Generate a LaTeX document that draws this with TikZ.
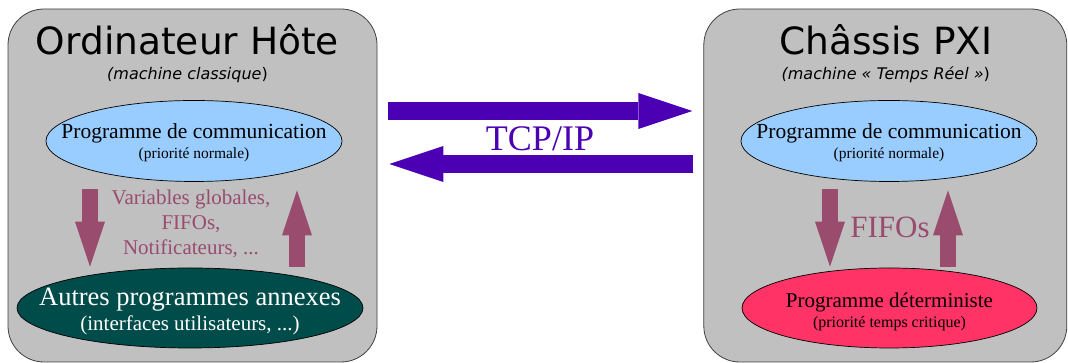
\documentclass[tikz,border=0pt]{standalone}
\usepackage{fontspec}
\setmainfont{Liberation Serif}
\newfontfamily\titlefont{DejaVu Sans}
\usetikzlibrary{arrows.meta,calc,positioning,shapes.geometric}
\definecolor{boxg}{HTML}{C0C0C0}
\definecolor{comb}{HTML}{99CCFF}
\definecolor{annt}{HTML}{004C4A}
\definecolor{detr}{HTML}{FF3366}
\definecolor{flowm}{HTML}{994C6E}
\definecolor{tcpv}{HTML}{4C00B4}

\begin{document}
\begin{tikzpicture}[x=1pt,y=1pt,
  machine/.style={draw=black!75,line width=0.8pt,rounded corners=36pt,fill=boxg,
    minimum height=353pt},
  prog/.style={ellipse,draw=black,line width=0.7pt,minimum height=81pt},
  title/.style={anchor=base,font=\titlefont\fontsize{37.5}{40}\selectfont},
  sub/.style={anchor=base,font=\titlefont\fontsize{16}{18}\selectfont},
  flow/.style={draw=flowm,line width=16pt,-{Triangle[width=30pt,length=45pt,line width=0pt]}},
  tcp/.style={draw=tcpv,line width=18pt,-{Triangle[width=36pt,length=54pt,line width=0pt]}}]
  \useasboundingbox (0,0) rectangle (1068,363);
  % the two machines
  \node[machine,minimum width=369pt] (host) at (192.5,177.5) {};
  \node[machine,minimum width=363pt,right=326pt of host] (pxi) {};
  \node[title] (hosttitle) at ($(host.north)+(-5,-46)$) {Ordinateur Hôte};
  \node[sub] (hostsub) at ($(hosttitle.base)+(0,-25)$) {\textit{(machine classique})};
  \node[title] (pxititle) at ($(pxi.north)+(0.5,-46)$) {Châssis PXI};
  \node[sub] (pxisub) at ($(pxititle.base)+(0,-25)$) {\textit{(machine «~Temps Réel~»})};
  % programs
  \node[prog,fill=comb,minimum width=296pt] (hostcom) at (194,222) {};
  \node[prog,fill=annt,minimum width=346pt,minimum height=80pt] (hostann) at (190,55) {};
  \node[prog,fill=comb,minimum width=296pt] (pxicom) at (889,222) {};
  \node[prog,fill=detr,minimum width=295pt,minimum height=80pt] (pxidet) at (889.5,55) {};
  \node[align=center,font=\fontsize{21.5}{20}\selectfont] (hostcomtxt) at ($(hostcom)+(0,-2)$)
    {Programme de communication\\{\fontsize{15.5}{20}\selectfont (priorité normale)}};
  \node[align=center,font=\fontsize{26.5}{25}\selectfont,text=white] (hostanntxt) at ($(hostann)+(0,-3.5)$)
    {Autres programmes annexes\\{\fontsize{21}{25}\selectfont (interfaces utilisateurs, ...)}};
  \node[align=center,font=\fontsize{21.5}{20}\selectfont] (pxicomtxt) at ($(pxicom)+(0,-2)$)
    {Programme de communication\\{\fontsize{15.5}{20}\selectfont (priorité normale)}};
  \node[align=center,font=\fontsize{21}{20}\selectfont] (pxidettxt) at ($(pxidet)+(0,-3.5)$)
    {Programme déterministe\\{\fontsize{16}{20}\selectfont (priorité temps critique)}};
  % exchanges inside each machine
  \node[align=center,text=flowm,font=\fontsize{21}{25}\selectfont] (hostvars) at (191,139)
    {Variables globales,\\FIFOs,\\Notificateurs, ...};
  \node[anchor=base,text=flowm,font=\fontsize{31}{36}\selectfont] (pxififo) at (890,125) {FIFOs};
  \draw[flow] ($(hostcom.south)+(-104,-7)$) -- ($(hostcom.south |- hostann.north)+(-104,1)$);
  \draw[flow] ($(hostcom.south |- hostann.north)+(103,1)$) -- ($(hostcom.south)+(103,-8.5)$);
  \draw[flow] ($(pxicom.south)+(-59,-7)$) -- ($(pxicom.south |- pxidet.north)+(-59,1)$);
  \draw[flow] ($(pxicom.south |- pxidet.north)+(59,1)$) -- ($(pxicom.south)+(59,-8.5)$);
  % network link
  \draw[tcp] ($(host.east)+(11,74.5)$) -- ($(pxi.west)+(-11,74.5)$);
  \draw[tcp] ($(pxi.west)+(-10,21.5)$) -- ($(host.east)+(12,21.5)$);
  \node[anchor=base,text=tcpv,font=\fontsize{36}{40}\selectfont] (tcplbl) at (540,212) {TCP/IP};
\end{tikzpicture}
\end{document}
